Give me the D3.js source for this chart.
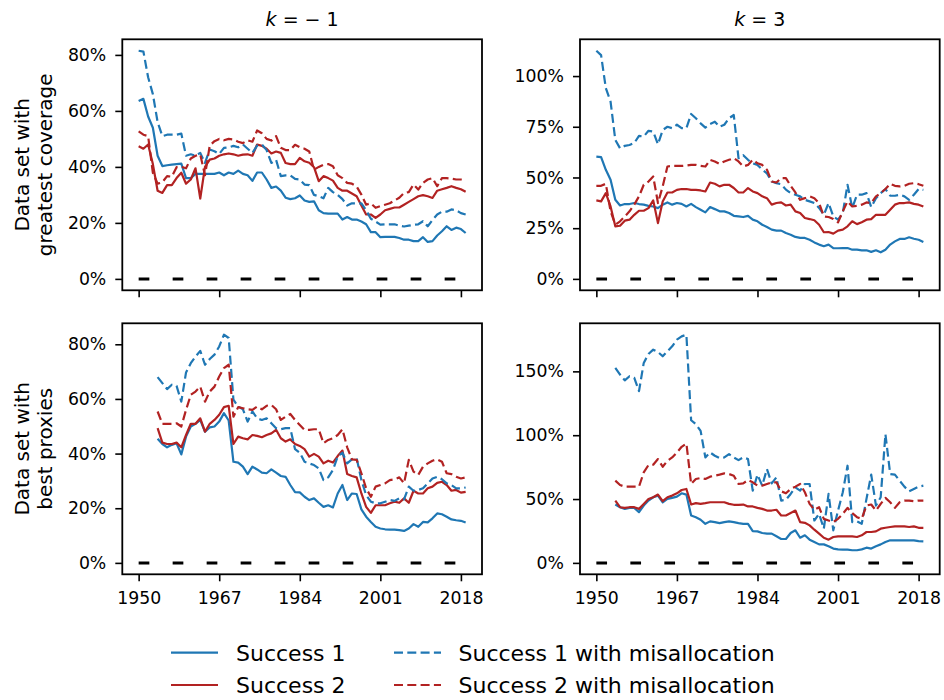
<!DOCTYPE html>
<html>
<head>
<meta charset="utf-8">
<script src="https://cdn.jsdelivr.net/npm/d3@7"></script>
<style>
  html, body { margin: 0; padding: 0; background: #fff; }
  svg { display: block; font-family: "DejaVu Sans", sans-serif; }
</style>
</head>
<body>
<svg id="chart" width="944" height="700"></svg>
<script>
// ---- Data -----------------------------------------------------------------
const firstYearCoverage = 1950;   // greatest-coverage series start
const firstYearProxies = 1954;    // best-proxies series start
const lastYear = 2019;

const xTickYears = [1950, 1967, 1984, 2001, 2018];
const yTicksCoverageKm1 = [0, 20, 40, 60, 80];
const yTicksCoverageK3 = [0, 25, 50, 75, 100];
const yTicksProxiesKm1 = [0, 20, 40, 60, 80];
const yTicksProxiesK3 = [0, 50, 100, 150];

const columnTitles = ["k = \u22121", "k = 3"];
const rowLabels = [["Data set with", "greatest coverage"], ["Data set with", "best proxies"]];
const seriesNames = ["Success 1", "Success 2", "Success 1 with misallocation", "Success 2 with misallocation"];

// Greatest coverage, k = -1 (percent, 1950-2019)
const coverageKm1Success1 = [
  63.5, 64.3, 58, 54, 44, 40.3, 40.6, 40.8, 41, 41.2,
  36, 36, 37.5, 37.5, 37.5, 37.5, 37.5, 38, 37, 38,
  37.5, 38.7, 37.5, 37, 35, 38, 38, 35.5, 32.5, 33,
  31.5, 29, 28.5, 28.8, 29.8, 28, 27.5, 27.7, 24.5, 23.5,
  23.3, 23.3, 23.3, 21.2, 22.1, 21.2, 21.2, 20.5, 19.5, 16.7,
  16.7, 14.9, 15, 15, 15, 14.6, 14, 14, 13.5, 13.5,
  14.9, 13.2, 13.5, 15.5, 17, 18.8, 17.5, 18.3, 17.8, 16.4];
const coverageKm1Success2 = [
  47.4, 46.5, 48, 41, 31.5, 30.7, 33.5, 33.5, 36, 37.9,
  34, 35.5, 39.5, 28.7, 40, 42.6, 43, 44, 44.5, 44.8,
  44.5, 44, 44.4, 44.5, 44, 48, 47.5, 46.5, 44.8, 45.5,
  45, 41.4, 41, 41, 43.2, 42, 41.5, 39.9, 34.9, 36.7,
  36, 35.1, 32.5, 31.5, 31.5, 30.5, 29.5, 26.2, 23, 23,
  21.8, 23, 24.5, 25, 25.5, 25.5, 26.5, 27.5, 28.5, 29.5,
  29.9, 29.5, 28.9, 31.5, 32, 32.5, 33.1, 32.5, 32, 31.1];
const coverageKm1Success1Mis = [
  81.5, 81.2, 72, 66, 56, 51, 51.5, 51.5, 51.5, 51.9,
  44, 44.5, 44, 45, 41.4, 46.2, 45.6, 44.6, 46.8, 47,
  47.5, 47, 48, 46.5, 45, 47.6, 48, 46, 41.4, 42.5,
  36.7, 37, 37, 35.7, 35.5, 33.7, 33.5, 30, 29.5, 28.8,
  32.5, 31, 30, 28.5, 26.2, 27, 27, 27, 24.5, 21.5,
  20.5, 19.4, 19.5, 19.5, 19.5, 19, 18.7, 19, 19.3, 19.5,
  20.6, 18.8, 21, 23, 24, 24, 24.8, 24.5, 23.5, 23];
const coverageKm1Success2Mis = [
  52.7, 51.5, 51, 37.9, 34, 34.5, 36.7, 36.5, 39.9, 40,
  39.5, 43, 44, 44.4, 37, 47.6, 49.2, 50, 49.5, 50,
  49.8, 49, 48.5, 49.5, 49, 53, 52, 50, 49.4, 51,
  46.8, 46, 46, 47.9, 47, 46.5, 45.5, 39, 40, 40.8,
  41, 40.2, 37, 36, 34.3, 34, 33, 30.1, 26.5, 27,
  25.4, 26, 26.5, 27, 28, 29, 30.7, 31, 33.7, 31.9,
  34.3, 35.5, 36, 33.1, 36, 36, 35.8, 35.5, 35.5, 35];

// Greatest coverage, k = 3 (percent, 1950-2019)
const coverageK3Success1 = [
  60.3, 60, 53.8, 48.9, 39, 36.2, 36.9, 36.9, 37.4, 36.9,
  36.6, 36, 35.7, 34.9, 36.6, 37.7, 36.6, 37.4, 37, 35.7,
  37, 35.4, 34.1, 32.8, 35.4, 34.4, 33.3, 33.3, 32.5, 31.1,
  30.8, 30.5, 31.1, 29.2, 28.4, 26.7, 25.6, 24.3, 23.8, 23.8,
  22.6, 21.8, 20.7, 20.2, 20.2, 19.3, 18, 16.9, 16.1, 16.9,
  15.2, 15.1, 15.2, 15.2, 14.4, 14.4, 14.1, 14.1, 13.3, 14.1,
  13.1, 14.4, 16.9, 18.5, 19.7, 19.7, 20.5, 19.8, 19.3, 18.2];
const coverageK3Success2 = [
  38.7, 38.2, 42.3, 35.7, 25.9, 26.2, 28.7, 29.2, 31.6, 33.6,
  33.6, 34.9, 38.7, 27.5, 38.2, 42.6, 42.6, 43.9, 44.3, 44.3,
  43.9, 43.9, 43.6, 43.1, 47.5, 46.9, 45.6, 46.4, 46.4, 44.8,
  42.6, 42.6, 44.8, 43.1, 42.3, 40.7, 39.8, 36.6, 37.4, 37.7,
  36.2, 36.6, 33.3, 32.5, 30, 29.5, 28.9, 26.7, 23, 23.1,
  22.3, 23.8, 24.3, 25.9, 28.4, 27, 27.9, 29.2, 29.5, 31.6,
  31.6, 31.6, 34.1, 36.6, 37.4, 37.4, 37.7, 37, 36.6, 35.7];
const coverageK3Success1Mis = [
  112.5, 110.3, 94, 87.4, 68.5, 64.4, 65.6, 66, 67, 70.5,
  70.2, 73, 72.6, 66.4, 73.4, 75, 74.3, 76, 74.3, 74.3,
  81.3, 79.2, 76.7, 74.6, 76.4, 77.5, 75, 76, 79.2, 80.8,
  59.5, 61, 58.7, 57, 56.2, 53.8, 52, 48, 47.2, 46.7,
  44, 42.3, 41.5, 40.7, 39, 38.2, 37.4, 35, 31.6, 37.4,
  30.8, 29.2, 32.5, 46.4, 35, 41.5, 41.5, 42.3, 35.4, 39.8,
  42.3, 44.3, 41, 41, 41.5, 40.7, 39, 41.5, 44.3, 43.9];
const coverageK3Success2Mis = [
  45.9, 45.9, 46.9, 33.3, 26.7, 28.4, 30.8, 33.3, 36.6, 40.7,
  46.4, 48, 50.5, 37.4, 45.6, 55.4, 55.7, 55.7, 55.7, 55.9,
  56.2, 56.2, 55.7, 55.4, 58.7, 57.9, 56.7, 57.9, 58.7, 59.5,
  57.9, 55.4, 56.2, 58.7, 57, 56.2, 53.8, 48, 47.5, 49.7,
  49.7, 45.9, 42.6, 39, 39.8, 40.7, 39.8, 37.4, 30.8, 30.5,
  29.5, 27.9, 33.3, 38.2, 35.7, 36, 36.6, 37.7, 37.4, 40.7,
  42.3, 44.3, 46.9, 45.9, 45.6, 45.9, 46.9, 47.2, 46.7, 45.9];

// Best proxies, k = -1 (percent, 1954-2019)
const proxiesKm1Success1 = [
  45.4, 43.5, 42.3, 43.2, 43.8, 39.7,
  46.2, 49.9, 50.9, 52.3, 48, 49.6, 49.9, 51.7, 54.8, 52.1,
  37, 36.7, 35.2, 32.5, 35.2, 34.2, 33, 32.8, 34.2, 33,
  31.8, 31.5, 28.5, 25.9, 25.8, 24.2, 23, 23.6, 22, 20.5,
  21.1, 20.3, 25.4, 28.5, 23, 25.4, 25.2, 19.6, 16.9, 15,
  13.2, 12.6, 12.3, 12.2, 12.2, 12, 11.7, 12.6, 14.2, 13.2,
  15, 14.8, 16.3, 18.1, 17.8, 16.9, 15.9, 15.6, 15.4, 14.8];
const proxiesKm1Success2 = [
  49.3, 44, 43.5, 43.5, 44, 42.3,
  46.8, 50.9, 50.9, 52.9, 48, 50.9, 52.3, 54.2, 57, 57.5,
  43.5, 46.2, 45.6, 45.2, 46.8, 46.5, 46, 46.8, 47.4, 48.7,
  45.6, 44.4, 45.2, 43.5, 42.8, 41.6, 38.9, 39.9, 38.9, 36.4,
  37.4, 36.7, 39.1, 41.1, 32.5, 31.8, 31.3, 25.4, 20.5, 18.3,
  21.1, 21.1, 21.1, 21.8, 22.4, 22, 23.6, 22, 26.4, 25.4,
  25.4, 27.3, 27.9, 29.3, 29.7, 28.5, 26.4, 26.7, 25.7, 26];
const proxiesKm1Success1Mis = [
  68, 65.8, 63.6, 65.2, 64.8, 59,
  69.7, 73.1, 75.5, 77.6, 72.5, 74.6, 76.2, 79.2, 83.5, 82.3,
  59.7, 57.2, 56.2, 51.7, 55.4, 52.9, 52.3, 52.9, 51.1, 49.3,
  48.9, 49.3, 49.3, 41.6, 40.3, 37, 36.4, 35.8, 34.6, 30.3,
  31.3, 34, 38.9, 40.3, 36.4, 37.9, 38.3, 30.3, 24.8, 22.4,
  21.8, 21.8, 22.4, 23, 22.7, 23.6, 23.2, 27.9, 26.4, 26.7,
  27.3, 29.1, 30.9, 31.5, 30.6, 29.1, 28.5, 27.3, 27.3, 27.6];
const proxiesKm1Success2Mis = [
  55.4, 50.9, 50.9, 50.9, 51.1, 49.9,
  56, 61.5, 62.7, 64.5, 59, 62.7, 64.5, 68.2, 71.3, 72.5,
  53.5, 57, 56.6, 56.2, 56, 57.2, 56.2, 57.5, 57.8, 56.2,
  52.3, 53.5, 54.5, 52.3, 50.5, 48.7, 48.7, 48.9, 48.9, 43.8,
  45, 45.6, 46.8, 48.9, 42.3, 37.9, 37.7, 32.8, 27.3, 24.2,
  27.9, 28.5, 29.1, 30.3, 30.6, 31.3, 29.1, 37.7, 33.4, 32.2,
  35.2, 36.4, 37.4, 37.9, 37, 32.8, 32.5, 31.5, 30.9, 31.3];

// Best proxies, k = 3 (percent, 1954-2019)
const proxiesK3Success1 = [
  45.7, 43.6, 42.3, 43.1, 43.1, 39.7,
  44.9, 48.8, 51.4, 52.7, 47.5, 50.1, 50.9, 51.9, 54.5, 53.5,
  37.1, 35.8, 33.8, 30.6, 32.5, 31.9, 31.2, 31.9, 32.5, 31.9,
  31.2, 30.6, 30.6, 24.9, 24.7, 23.4, 22.9, 22.9, 20.8, 18.7,
  18.7, 23.4, 25.5, 19.7, 21.6, 18.2, 16.4, 14.5, 14.5, 13,
  11.2, 10.6, 10.4, 10.4, 9.9, 9.9, 10.6, 11.9, 11.2, 13,
  14.5, 16.4, 17.7, 17.7, 17.7, 17.7, 17.7, 17.7, 17.1, 16.9];
const proxiesK3Success2 = [
  48.8, 43.6, 43.1, 43.6, 43.6, 42.3,
  46.2, 50.1, 51.4, 53.5, 48.3, 51.4, 52.7, 54.5, 57.1, 57.9,
  45.7, 46.8, 46.2, 46.8, 47.5, 47.5, 47.5, 47.5, 46.2, 45.5,
  45.5, 45.7, 44.2, 44.2, 43.1, 42.3, 41, 41, 41.6, 37.1,
  37.1, 39, 41, 31.9, 31.4, 29.4, 26, 22.9, 19.7, 18.2,
  20.3, 20.8, 20.8, 20.8, 20.8, 20.3, 21.6, 24.2, 24.2, 24.7,
  26.8, 27.5, 28.1, 28.6, 28.6, 28.6, 28.1, 28.6, 27.5, 27.5];
const proxiesK3Success1Mis = [
  152.7, 147.5, 142.9, 146.2, 144.9, 134.5,
  156.6, 163.6, 167, 165.2, 161.8, 165.7, 169.6, 174.8, 177.4, 178.7,
  111.7, 108.6, 103.4, 82.6, 86.5, 83.9, 82.1, 82.6, 85.2, 82.6,
  80.5, 82.6, 81.3, 56.6, 69.1, 60.5, 73.5, 62.3, 67, 48.8,
  49.4, 54, 59.2, 56.6, 61.8, 61.8, 33.2, 38.4, 26.8, 54,
  25.5, 41, 55.3, 76.1, 31.9, 32.5, 30.6, 50.1, 69.1, 44.9,
  51.4, 100.8, 69.6, 69.1, 64.4, 59.7, 56.1, 57.9, 59.7, 60.5];
const proxiesK3Success2Mis = [
  64.4, 61, 59.7, 59.7, 59.7, 59.7,
  70.9, 76.6, 76.9, 81.3, 75.3, 80, 82.6, 86.5, 90.9, 93.5,
  61.8, 65.7, 66.5, 65.7, 67.5, 68.3, 69.1, 70.1, 69.6, 68.3,
  61.8, 62.3, 64.9, 63.1, 60.5, 60.5, 61.8, 63.1, 63.1, 56.1,
  54.5, 57.9, 59.7, 61.8, 55.3, 46.2, 41.6, 43.6, 34.5, 33.2,
  31.9, 34.5, 38.4, 43.1, 39, 35.8, 34.5, 44.9, 45.7, 41,
  46.2, 50.9, 47.5, 43.1, 47.5, 48.8, 48.8, 48.3, 48.8, 48.8];

// ---- Panel definitions ----------------------------------------------------
const panels = [
  { row: 0, col: 0, start: firstYearCoverage, yTicks: yTicksCoverageKm1,
    series: [coverageKm1Success1, coverageKm1Success2, coverageKm1Success1Mis, coverageKm1Success2Mis] },
  { row: 0, col: 1, start: firstYearCoverage, yTicks: yTicksCoverageK3,
    series: [coverageK3Success1, coverageK3Success2, coverageK3Success1Mis, coverageK3Success2Mis] },
  { row: 1, col: 0, start: firstYearProxies, yTicks: yTicksProxiesKm1,
    series: [proxiesKm1Success1, proxiesKm1Success2, proxiesKm1Success1Mis, proxiesKm1Success2Mis] },
  { row: 1, col: 1, start: firstYearProxies, yTicks: yTicksProxiesK3,
    series: [proxiesK3Success1, proxiesK3Success2, proxiesK3Success1Mis, proxiesK3Success2Mis] }
];

// ---- Layout & style -------------------------------------------------------
const colX = [122.3, 580];
const rowY = [39.3, 323.3];
const panelW = 359.7;
const panelH = 251;
const blue = "#1f77b4";
const red = "#b22222";
const seriesStyle = [
  { color: blue, dash: null },
  { color: red, dash: null },
  { color: blue, dash: "9,4.3" },
  { color: red, dash: "9,4.3" }
];
const lineWidth = 2.2;
const tickFont = 17.3;

const svg = d3.select("#chart");

// Shared x range with 5% padding on both sides
const xSpan = lastYear - firstYearCoverage;
const x = d3.scaleLinear()
  .domain([firstYearCoverage - 0.05 * xSpan, lastYear + 0.05 * xSpan])
  .range([0, panelW]);

panels.forEach(p => {
  const g = svg.append("g")
    .attr("transform", `translate(${colX[p.col]},${rowY[p.row]})`);

  const yMax = d3.max(p.series, s => d3.max(s));
  const y = d3.scaleLinear()
    .domain([-0.05 * yMax, 1.05 * yMax])
    .range([panelH, 0]);

  // zero reference
  g.append("line")
    .attr("x1", x(firstYearCoverage)).attr("x2", x(lastYear))
    .attr("y1", y(0)).attr("y2", y(0))
    .attr("stroke", "#000").attr("stroke-width", 3)
    .attr("stroke-dasharray", "10.7,23.3");

  // series lines
  const line = d3.line()
    .x((d, i) => x(p.start + i))
    .y(d => y(d));
  p.series.forEach((s, k) => {
    g.append("path")
      .datum(s)
      .attr("d", line)
      .attr("fill", "none")
      .attr("stroke", seriesStyle[k].color)
      .attr("stroke-width", lineWidth)
      .attr("stroke-linejoin", "round")
      .attr("stroke-dasharray", seriesStyle[k].dash);
  });

  // y axis
  const yAxis = d3.axisLeft(y)
    .tickValues(p.yTicks)
    .tickSize(7)
    .tickPadding(9)
    .tickFormat(d => d + "%");
  const ya = g.append("g").call(yAxis);
  ya.select(".domain").remove();

  // x axis (labels only on bottom row)
  const xAxis = d3.axisBottom(x)
    .tickValues(xTickYears)
    .tickSize(7)
    .tickPadding(10.5)
    .tickFormat(p.row === 1 ? d3.format("d") : () => "");
  const xa = g.append("g").attr("transform", `translate(0,${panelH})`).call(xAxis);
  xa.select(".domain").remove();

  [ya, xa].forEach(a => {
    a.selectAll(".tick line").attr("stroke", "#000").attr("stroke-width", 1.6);
    a.selectAll(".tick text")
      .attr("fill", "#000")
      .style("font-family", '"DejaVu Sans", sans-serif')
      .style("font-size", tickFont + "px");
  });

  // frame
  g.append("rect")
    .attr("width", panelW).attr("height", panelH)
    .attr("fill", "none")
    .attr("stroke", "#000").attr("stroke-width", 1.8);
});

// column titles
columnTitles.forEach((t, c) => {
  const parts = t.split(" ");
  const txt = svg.append("text")
    .attr("x", colX[c] + panelW / 2)
    .attr("y", 26)
    .attr("text-anchor", "middle")
    .style("font-size", "19px")
    .attr("fill", "#000");
  txt.append("tspan").style("font-style", "italic").text(parts[0]);
  txt.append("tspan").text(" " + parts.slice(1).join(" ").replace("\u2212", "\u2212 "));
});

// row labels
rowLabels.forEach((lines, r) => {
  const cy = rowY[r] + panelH / 2;
  const baselines = [28.5, 52];
  lines.forEach((l, i) => {
    svg.append("text")
      .attr("transform", `translate(${baselines[i]},${cy}) rotate(-90)`)
      .attr("text-anchor", "middle")
      .style("font-size", "20px")
      .attr("fill", "#000")
      .text(l);
  });
});

// legend (two columns)
const legendCols = [{ hx: 171, tx: 236 }, { hx: 394, tx: 458.5 }];
const legendRows = [652.7, 685];
seriesNames.forEach((name, k) => {
  const c = Math.floor(k / 2), r = k % 2;
  const cy = legendRows[r];
  svg.append("line")
    .attr("x1", legendCols[c].hx).attr("x2", legendCols[c].hx + 47)
    .attr("y1", cy).attr("y2", cy)
    .attr("stroke", seriesStyle[k].color)
    .attr("stroke-width", lineWidth)
    .attr("stroke-dasharray", seriesStyle[k].dash);
  svg.append("text")
    .attr("x", legendCols[c].tx)
    .attr("y", cy + 8)
    .style("font-size", "22px")
    .attr("fill", "#000")
    .text(name);
});
</script>
</body>
</html>
